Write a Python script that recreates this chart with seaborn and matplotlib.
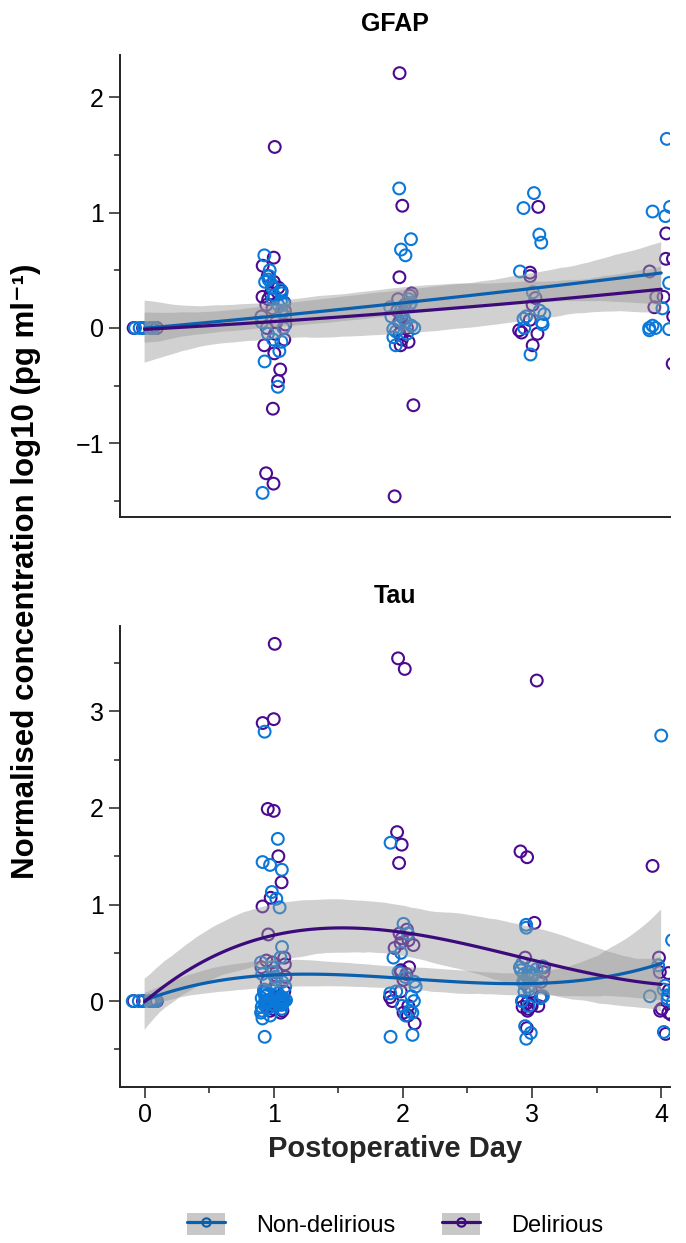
import numpy as np
import pandas as pd
import seaborn as sns
import matplotlib.pyplot as plt
from matplotlib.lines import Line2D
from matplotlib.patches import Patch
from matplotlib.legend_handler import HandlerTuple
from matplotlib.ticker import MultipleLocator

sns.set_style("ticks")
plt.rcParams["font.family"] = ["Liberation Sans", "DejaVu Sans"]
plt.rcParams["text.color"] = "black"
plt.rcParams["xtick.labelcolor"] = "black"
plt.rcParams["ytick.labelcolor"] = "black"

days = [0, 1, 2, 3, 4]
groups = ["Non-delirious", "Delirious"]
point_colors = {"Non-delirious": "#0a78d8", "Delirious": "#4b0a91"}
line_colors = {"Non-delirious": "#0a5fae", "Delirious": "#3d0a7c"}

# GFAP, normalised log10 values, one list per postoperative day
gfap_nondel = [
    [0, 0, 0, 0, 0, 0, 0, 0],
    [0.63, 0.50, 0.45, 0.42, 0.40, 0.38, 0.35, 0.33, 0.30, 0.28, 0.25, 0.23, 0.22,
     0.20, 0.15, 0.10, 0.05, 0.00, -0.05, -0.10, -0.12, -0.20, -0.29, -0.51, -1.43],
    [1.21, 0.77, 0.68, 0.63, 0.25, 0.22, 0.20, 0.18, 0.15, 0.12, 0.10, 0.08, 0.05,
     0.02, 0.00, -0.01, -0.03, -0.05, -0.08, -0.15],
    [1.17, 1.04, 0.81, 0.74, 0.49, 0.31, 0.15, 0.12, 0.10, 0.08, 0.05, 0.03, 0.00, -0.23],
    [1.64, 1.05, 1.01, 0.97, 0.39, 0.17, 0.02, 0.00, 0.00, -0.01, -0.02],
]
gfap_del = [
    [0, 0, 0, 0, 0],
    [1.57, 0.61, 0.54, 0.45, 0.40, 0.35, 0.32, 0.30, 0.27, 0.25, 0.22, 0.20, 0.17,
     0.15, 0.10, 0.05, 0.03, 0.00, -0.05, -0.10, -0.15, -0.22, -0.36, -0.46, -0.70,
     -1.26, -1.35],
    [2.21, 1.06, 0.44, 0.30, 0.28, 0.25, 0.20, 0.15, 0.10, 0.05, 0.00, -0.05, -0.10,
     -0.12, -0.15, -0.67, -1.46],
    [1.05, 0.48, 0.45, 0.26, 0.20, 0.07, -0.02, -0.04, -0.05, -0.15],
    [0.82, 0.60, 0.60, 0.49, 0.27, 0.27, 0.18, 0.10, -0.31],
]

# Tau
tau_nondel = [
    [0, 0, 0, 0, 0, 0, 0, 0],
    [2.79, 1.68, 1.44, 1.41, 1.36, 1.13, 1.06, 0.97, 0.56, 0.45, 0.40, 0.35, 0.30,
     0.28, 0.25, 0.22, 0.20, 0.15, 0.12, 0.10, 0.08, 0.08, 0.06, 0.05, 0.05, 0.04,
     0.03, 0.03, 0.02, 0.02, 0.01, 0.00, 0.00, 0.00, 0.00, 0.00, 0.00, -0.01, -0.02,
     -0.02, -0.03, -0.04, -0.05, -0.05, -0.06, -0.07, -0.08, -0.10, -0.12, -0.15,
     -0.18, -0.37],
    [1.64, 0.80, 0.70, 0.50, 0.45, 0.30, 0.25, 0.20, 0.15, 0.10, 0.08, 0.05, 0.00,
     -0.05, -0.10, -0.12, -0.15, -0.35, -0.37],
    [0.79, 0.76, 0.39, 0.36, 0.35, 0.33, 0.32, 0.30, 0.30, 0.28, 0.28, 0.26, 0.25,
     0.22, 0.20, 0.18, 0.15, 0.12, 0.10, 0.05, 0.03, 0.00, -0.05, -0.26, -0.33, -0.39],
    [2.75, 0.63, 0.37, 0.16, 0.12, 0.06, 0.05, 0.02, -0.01, -0.32],
]
tau_del = [
    [0, 0, 0, 0, 0],
    [3.70, 2.92, 2.88, 1.99, 1.97, 1.50, 1.23, 1.07, 0.98, 0.69, 0.45, 0.42, 0.40,
     0.38, 0.35, 0.30, 0.25, 0.20, 0.15, 0.10, 0.10, 0.05, 0.05, 0.02, 0.00, 0.00,
     -0.02, -0.05, -0.08, -0.10, -0.10, -0.12],
    [3.55, 3.44, 1.75, 1.62, 1.43, 0.74, 0.70, 0.65, 0.63, 0.60, 0.58, 0.55, 0.35,
     0.32, 0.30, 0.28, 0.22, 0.10, 0.04, 0.00, -0.05, -0.12, -0.15, -0.23],
    [3.32, 1.55, 1.49, 0.81, 0.45, 0.35, 0.30, 0.20, 0.10, 0.05, 0.00, -0.02, -0.04,
     -0.05, -0.05, -0.06, -0.08, -0.10, -0.28],
    [1.40, 0.45, 0.30, 0.29, 0.11, -0.08, -0.10, -0.12, -0.14, -0.34],
]


def to_frame(nondel, dele):
    rows = []
    for g, per_day in zip(groups, [nondel, dele]):
        for d, vals in zip(days, per_day):
            for v in vals:
                rows.append({"day": d, "value": v, "group": g})
    return pd.DataFrame(rows)


def draw_panel(ax, df, order, title):
    np.random.seed(7)
    for g in ["Delirious", "Non-delirious"]:
        sub = df[df["group"] == g]
        n_before = len(ax.collections)
        sns.stripplot(data=sub, x="day", y="value", orient="x", native_scale=True,
                      jitter=0.1, size=8.5, linewidth=1.5, color=point_colors[g],
                      edgecolor=point_colors[g], ax=ax, zorder=2)
        for pts in ax.collections[n_before:]:
            pts.set_facecolor("none")
            pts.set_edgecolor(point_colors[g])
    for g in groups:
        sub = df[df["group"] == g]
        sns.regplot(data=sub, x="day", y="value", scatter=False, order=order,
                    color=line_colors[g], seed=1, n_boot=500, ax=ax,
                    line_kws={"lw": 2.3, "zorder": 4})
        band = ax.collections[-1]
        band.set_facecolor("#999999")
        band.set_alpha(0.45)
        band.set_edgecolor("none")
        band.set_zorder(3)
    ax.set_title(title, fontsize=18, fontweight="bold", pad=17)
    ax.set_xlim(-0.19, 4.07)
    ax.set_ylabel("")
    ax.set_xlabel("")
    sns.despine(ax=ax)
    for s in ["left", "bottom"]:
        ax.spines[s].set_linewidth(1.4)
        ax.spines[s].set_color("#222222")
    ax.yaxis.set_major_locator(MultipleLocator(1))
    ax.yaxis.set_minor_locator(MultipleLocator(0.5))
    ax.tick_params(axis="y", which="major", length=8, width=1.1, labelsize=18, color="#222222")
    ax.tick_params(axis="y", which="minor", length=4, width=1.1, color="#222222")


fig = plt.figure(figsize=(6.86, 12.43), dpi=100)
ax_top = fig.add_axes([0.175, 0.584, 0.802, 0.372])
ax_bot = fig.add_axes([0.175, 0.1255, 0.802, 0.3705])

draw_panel(ax_top, to_frame(gfap_nondel, gfap_del), 2, "GFAP")
draw_panel(ax_bot, to_frame(tau_nondel, tau_del), 3, "Tau")

ax_top.set_ylim(-1.64, 2.37)
ax_top.set_xticks([])
ax_bot.set_ylim(-0.89, 3.88)
ax_bot.set_xticks(days)
ax_bot.xaxis.set_minor_locator(MultipleLocator(0.5))
ax_bot.tick_params(axis="x", which="major", length=8, width=1.1, labelsize=18, color="#222222")
ax_bot.tick_params(axis="x", which="minor", length=4, width=1.1, color="#222222")
ax_bot.set_xlabel("Postoperative Day", fontsize=21, fontweight="bold", labelpad=6)

fig.text(0.038, 0.54, "Normalised concentration log10 (pg ml\u207b\u00b9)", rotation=90,
         ha="center", va="center", fontsize=22.5, fontweight="bold")

handles = []
for g in groups:
    box = Patch(facecolor="#c8c8c8", edgecolor="none")
    ln = Line2D([], [], color=line_colors[g], lw=2.3, marker="o", ms=6,
                mfc="none", mec=line_colors[g], mew=1.5)
    handles.append((box, ln))
fig.legend(handles, groups, handler_map={tuple: HandlerTuple(ndivide=1, pad=0)},
           loc="center", bbox_to_anchor=(0.576, 0.0145), ncol=2, frameon=False,
           fontsize=17, handlelength=1.6, handleheight=1.1, handletextpad=1.3,
           columnspacing=2.0)

fig.savefig("out.png", dpi=100)
